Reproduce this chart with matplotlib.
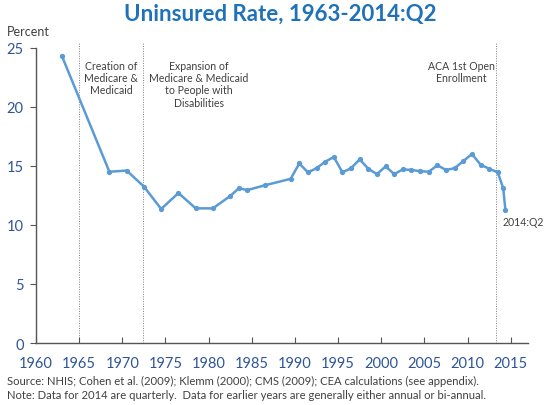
import matplotlib
matplotlib.use("Agg")
import matplotlib.pyplot as plt

years = [1963.0, 1968.5, 1970.5, 1972.5, 1974.5, 1976.5, 1978.5, 1980.5, 1982.5,
         1983.5, 1984.5, 1986.5, 1989.5, 1990.5, 1991.5, 1992.5, 1993.5, 1994.5,
         1995.5, 1996.5, 1997.5, 1998.5, 1999.5, 2000.5, 2001.5, 2002.5, 2003.5,
         2004.5, 2005.5, 2006.5, 2007.5, 2008.5, 2009.5, 2010.5, 2011.5, 2012.5,
         2013.5, 2014.125, 2014.375]
rates = [24.3, 14.5, 14.6, 13.25, 11.35, 12.7, 11.4, 11.4, 12.45,
         13.1, 12.95, 13.35, 13.9, 15.2, 14.45, 14.8, 15.35, 15.75,
         14.45, 14.8, 15.55, 14.75, 14.3, 14.95, 14.3, 14.7, 14.65,
         14.55, 14.5, 15.05, 14.65, 14.8, 15.4, 16.0, 15.1, 14.75,
         14.45, 13.1, 11.3]
event_years = [1965.0, 1972.4, 2013.3]
event_labels = ["Creation of\nMedicare &\nMedicaid",
                "Expansion of\nMedicare & Medicaid\nto People with\nDisabilities",
                "ACA 1st Open\nEnrollment"]
label_x = [1968.7, 1978.9, 2009.3]
xticks = list(range(1960, 2016, 5))
yticks = [0, 5, 10, 15, 20, 25]

plt.rcParams['font.family'] = ['Lato', 'DejaVu Sans']

fig = plt.figure(figsize=(5.6, 4.06), dpi=100)
ax = fig.add_axes([0.0643, 0.1527, 0.8786, 0.7389])

tick_color = '#2F5597'
line_color = '#5B9BD5'

ax.plot(years, rates, color=line_color, lw=1.8, marker='o', ms=3.8,
        markeredgewidth=0, zorder=3)

for ev in event_years:
    ax.axvline(ev, color='#808080', lw=0.7, ls=(0, (1, 1.5)), zorder=1)

for lx, lab in zip(label_x, event_labels):
    ax.text(lx, 24.0, lab, ha='center', va='top', fontsize=7.6,
            color='#404040', linespacing=1.15)

ax.text(years[-1] - 0.35, 10.3, "2014:Q2", ha='left', va='center',
        fontsize=7.6, color='#404040')

ax.set_xlim(1960, 2017)
ax.set_ylim(0, 25.4)
ax.set_xticks(xticks)
ax.set_yticks(yticks)

for s in ['top', 'right']:
    ax.spines[s].set_visible(False)
ax.spines['left'].set_bounds(0, 25)
for s in ['left', 'bottom']:
    ax.spines[s].set_color('#555555')
    ax.spines[s].set_linewidth(1.0)

ax.tick_params(axis='x', direction='in', length=4, colors='#555555',
               labelcolor=tick_color, labelsize=10.5, pad=9)
ax.tick_params(axis='y', direction='out', length=4, colors='#555555',
               labelcolor=tick_color, labelsize=10.5, pad=5)

fig.text(0.5, 0.965, "Uninsured Rate, 1963-2014:Q2", ha='center', va='center',
         fontsize=16, fontweight='bold', color='#1F72B8')
fig.text(7/560, 1 - 32/406, "Percent", ha='left', va='center',
         fontsize=9, color='#404040')
fig.text(7/560, 1 - 381/406,
         "Source: NHIS; Cohen et al. (2009); Klemm (2000); CMS (2009); CEA calculations (see appendix).",
         ha='left', va='center', fontsize=8.1, color='#404040')
fig.text(7/560, 1 - 396/406,
         "Note: Data for 2014 are quarterly.  Data for earlier years are generally either annual or bi-annual.",
         ha='left', va='center', fontsize=8.1, color='#404040')

fig.savefig("out.png", dpi=100)
